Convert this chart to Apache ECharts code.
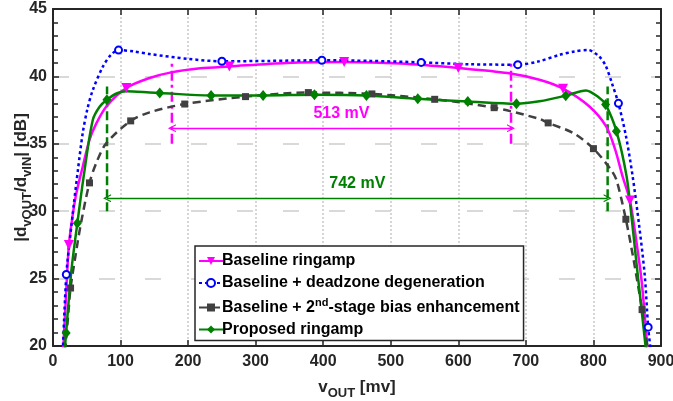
<!DOCTYPE html>
<html><head><meta charset="utf-8">
<script src="https://cdn.jsdelivr.net/npm/echarts@6/dist/echarts.min.js"></script>
<style>html,body{margin:0;padding:0;background:#fff}#c{width:673px;height:401px}</style>
</head><body><div id="c"></div>
<script>
// ---- data (vOUT in mV, gain in dB) ----
const seriesNames = ['Baseline ringamp', 'Baseline + deadzone degeneration', 'Baseline + 2nd-stage bias enhancement', 'Proposed ringamp'];

const baseV  = [15, 19.5, 23.5, 28, 34, 44, 54, 64, 79, 108.5, 143, 175, 218, 261, 345, 431, 515, 600, 673, 720, 755, 794, 819, 832, 843, 854, 864, 872, 880];
const baseDb = [19.6, 24.0, 27.5, 29.3, 31.2, 33.3, 35.3, 36.5, 37.77, 39.14, 39.88, 40.3, 40.6, 40.74, 41.0, 41.07, 40.95, 40.62, 40.25, 39.75, 39.09, 37.77, 36.28, 34.6, 32.6, 30.8, 27.6, 24.5, 19.6];
const baseMarks = [2, 9, 13, 15, 17, 20, 25];

const dzV  = [14.5, 19.7, 25, 31, 37, 44, 51, 59, 74, 86, 97, 120, 143, 200, 250, 320, 398, 470, 545, 617, 688, 718, 750, 772, 792, 808, 818, 828, 837, 848, 858, 868, 876, 881, 885];
const dzDb = [19.6, 25.3, 27.9, 30.6, 33.1, 35.8, 37.6, 39.0, 40.74, 41.61, 41.95, 41.85, 41.66, 41.3, 41.12, 41.15, 41.2, 41.15, 41.04, 40.9, 40.87, 41.1, 41.6, 41.85, 41.96, 41.5, 40.8, 39.4, 38.0, 35.6, 32.6, 28.8, 25.2, 21.4, 19.6];
const dzMarks = [1, 10, 14, 16, 18, 20, 28, 33];

const biasV  = [18, 22, 26, 33, 41, 54, 65, 79, 115, 143, 195, 285, 378, 472, 565, 653, 720, 733, 770, 800, 826, 834, 848, 858, 866, 872, 877, 881];
const biasDb = [19.6, 22.0, 24.3, 26.6, 29.0, 32.1, 33.7, 35.05, 36.7, 37.33, 37.95, 38.5, 38.8, 38.7, 38.3, 37.68, 36.85, 36.55, 35.8, 34.64, 33.07, 32.33, 29.4, 26.8, 24.5, 22.7, 21.0, 19.6];
const biasMarks = [2, 5, 8, 10, 11, 12, 13, 14, 15, 17, 19, 22, 25];

const propV  = [17.2, 19.4, 27, 36, 46.8, 59, 69, 79.8, 95, 108.5, 143, 158, 234, 311, 387, 464, 540, 614, 686, 720, 759, 789, 809, 818, 834, 849, 857, 864, 871, 878];
const propDb = [19.6, 20.97, 25.5, 29.1, 33.07, 36.78, 37.75, 38.27, 38.75, 38.89, 38.81, 38.77, 38.59, 38.59, 38.64, 38.59, 38.34, 38.14, 37.97, 38.15, 38.57, 38.96, 38.4, 37.92, 35.94, 32.6, 29.3, 26.0, 22.8, 19.6];
const propMarks = [1, 3, 7, 11, 12, 13, 14, 15, 16, 17, 18, 20, 23, 24];

// annotations: [left, right] spans, vertical extents, arrow levels, labels
const spanBaseline = [176, 678];
const spanBaselineY = [35, 41.2];
const spanBaselineArrow = 36.15;
const spanProposed = [80, 821];
const spanProposedY = [30, 39.26];
const spanProposedArrow = 30.96;
const spanLabels = ['513 mV', '742 mV'];

// axis ticks
const xMin = 0, xMax = 900, xStep = 100;
const yMin = 20, yMax = 45, yStep = 5;

// ---- styling ----
const C = { base: '#FF00FF', dz: '#0000FF', bias: '#404040', prop: '#008000', axis: '#262626' };
const FONT = 'Liberation Sans, Arial, Helvetica, sans-serif';
const chevron = 'path://M0,10 L5,0 L10,10 L8.4,10 L5,3.2 L1.6,10 Z';

function mkData(vs, ds, marks) {
  return vs.map((v, i) => marks.indexOf(i) >= 0 ? { value: [v, ds[i]] } : { value: [v, ds[i]], symbol: 'none' });
}

function mkSeries(name, vs, ds, marks, color, lineType, symbol, symbolSize, extra) {
  return Object.assign({
    name: name, type: 'line', smooth: 0.3,
    data: mkData(vs, ds, marks),
    symbol: symbol, symbolSize: symbolSize, showSymbol: true, showAllSymbol: true,
    lineStyle: { color: color, width: 2.5, type: lineType },
    itemStyle: { color: color },
    clip: true, z: 3
  }, extra || {});
}

function vLine(x, ys, color, dash) {
  return {
    type: 'line', data: [[x, ys[0]], [x, ys[1]]], symbol: 'none', silent: true,
    lineStyle: { color: color, width: 2.5, type: dash }, z: 2
  };
}

function spanArrow(span, y, color, label) {
  return {
    type: 'line', data: [], silent: true,
    markLine: {
      silent: true, animation: false,
      symbol: [chevron, chevron], symbolSize: [8, 8],
      lineStyle: { color: color, width: 1.3, type: 'solid' },
      label: { show: true, position: 'middle', distance: 7, formatter: label, color: color,
               fontSize: 16, fontWeight: 'bold', fontFamily: FONT },
      data: [[{ coord: [span[0], y] }, { coord: [span[1], y] }]]
    }
  };
}

const chart = echarts.init(document.getElementById('c'), null, { renderer: 'canvas' });

const labelStyle = { color: C.axis, fontSize: 16, fontWeight: 'bold', fontFamily: FONT };
const richName = {
  m: { fontSize: 17, fontWeight: 'bold', fontFamily: FONT, color: C.axis },
  sub: { fontSize: 13, fontWeight: 'bold', fontFamily: FONT, color: C.axis, padding: [13, 0, 0, 0] }
};

chart.setOption({
  animation: false,
  backgroundColor: '#fff',
  grid: { left: 53, right: 12, top: 9, bottom: 55, containLabel: false, outerBoundsMode: 'none' },
  legend: {
    data: seriesNames,
    orient: 'vertical', left: 195, top: 246,
    backgroundColor: '#fff', borderColor: C.axis, borderWidth: 1.5,
    padding: [7, 4, 3, 3], itemGap: 6, itemWidth: 24, itemHeight: 10,
    textStyle: {
      fontSize: 16, fontWeight: 'bold', fontFamily: FONT, color: '#000', padding: [0, 0, 0, -6],
      rich: {
        t: { fontSize: 16, fontWeight: 'bold', fontFamily: FONT, color: '#000' },
        sup: { fontSize: 11, fontWeight: 'bold', fontFamily: FONT, color: '#000', padding: [0, 0, 10, 0] }
      }
    },
    formatter: function (name) {
      if (name === seriesNames[2]) return '{t|Baseline + 2}{sup|nd}{t|-stage bias enhancement}';
      return '{t|' + name + '}';
    }
  },
  xAxis: [{
    type: 'value', min: xMin, max: xMax, interval: xStep, position: 'bottom',
    name: '{m|v}{sub|OUT}{m| [mv]}', nameLocation: 'middle', nameGap: 28, nameMoveOverlap: false,
    nameTextStyle: { rich: richName },
    axisLine: { show: true, onZero: false, lineStyle: { color: C.axis, width: 2 } },
    axisTick: { show: true, inside: true, length: 6, lineStyle: { color: C.axis, width: 1.5 } },
    axisLabel: Object.assign({ margin: 8 }, labelStyle),
    splitLine: { show: true, lineStyle: { color: '#d6d6d6', width: 2, type: [2, 2] } }
  }, {
    type: 'value', min: xMin, max: xMax, interval: xStep, position: 'top',
    axisLine: { show: true, onZero: false, lineStyle: { color: C.axis, width: 2 } },
    axisTick: { show: true, inside: true, length: 6, lineStyle: { color: C.axis, width: 1.5 } },
    axisLabel: { show: false }, splitLine: { show: false }
  }],
  yAxis: [{
    type: 'value', min: yMin, max: yMax, interval: yStep, position: 'left',
    name: '{m||d}{sub|vOUT}{m|/d}{sub|vIN}{m|| [dB]}', nameLocation: 'middle', nameGap: 19, nameRotate: 90,
    nameMoveOverlap: false,
    nameTextStyle: { rich: richName },
    axisLine: { show: true, onZero: false, lineStyle: { color: C.axis, width: 2 } },
    axisTick: { show: true, inside: true, length: 6, lineStyle: { color: C.axis, width: 1.5 } },
    minorTick: { show: true, splitNumber: 5, length: 5, lineStyle: { color: C.axis, width: 1.5 } },
    axisLabel: Object.assign({ margin: 6 }, labelStyle),
    splitLine: { show: true, lineStyle: { color: '#d9d9d9', width: 2, type: [16, 30] } }
  }, {
    type: 'value', min: yMin, max: yMax, interval: yStep, position: 'right',
    axisLine: { show: true, onZero: false, lineStyle: { color: C.axis, width: 2 } },
    axisTick: { show: true, inside: true, length: 6, lineStyle: { color: C.axis, width: 1.5 } },
    minorTick: { show: true, splitNumber: 5, length: 5, lineStyle: { color: C.axis, width: 1.5 } },
    axisLabel: { show: false }, splitLine: { show: false }
  }],
  series: [
    vLine(spanBaseline[0], spanBaselineY, C.base, [10, 4, 3, 4]),
    vLine(spanBaseline[1], spanBaselineY, C.base, [10, 4, 3, 4]),
    vLine(spanProposed[0], spanProposedY, C.prop, [9, 4]),
    vLine(spanProposed[1], spanProposedY, C.prop, [9, 4]),
    spanArrow(spanBaseline, spanBaselineArrow, C.base, spanLabels[0]),
    spanArrow(spanProposed, spanProposedArrow, C.prop, spanLabels[1]),
    mkSeries(seriesNames[0], baseV, baseDb, baseMarks, C.base, 'solid', 'triangle', 10, { symbolRotate: 180 }),
    mkSeries(seriesNames[1], dzV, dzDb, dzMarks, C.dz, [3, 3], 'emptyCircle', 7, { itemStyle: { color: C.dz, borderWidth: 2 } }),
    mkSeries(seriesNames[2], biasV, biasDb, biasMarks, C.bias, [8, 5], 'rect', 7),
    mkSeries(seriesNames[3], propV, propDb, propMarks, C.prop, 'solid', 'diamond', [9, 11])
  ]
});
</script></body></html>
